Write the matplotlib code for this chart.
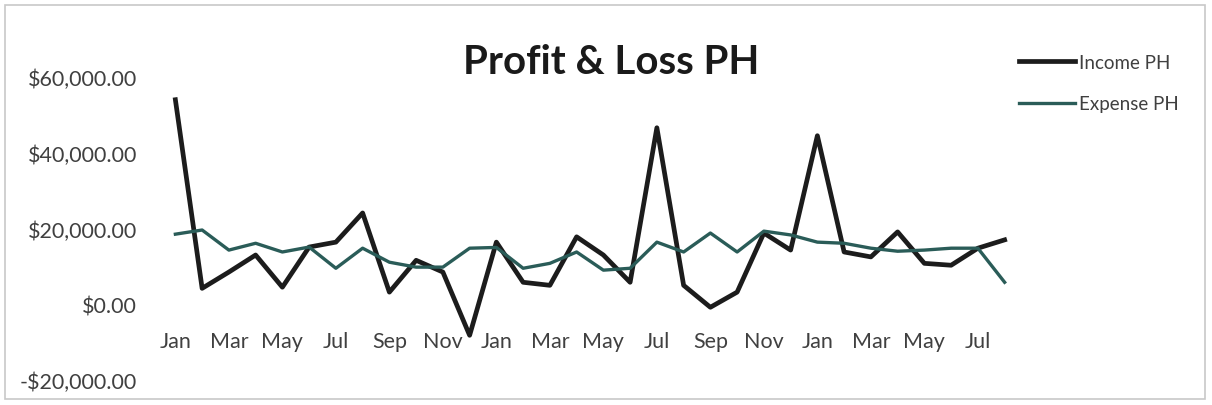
import matplotlib.pyplot as plt
from matplotlib.patches import Rectangle
from matplotlib.ticker import FuncFormatter

plt.rcParams['font.family'] = ['Lato', 'DejaVu Sans']

months = ["Jan", "Feb", "Mar", "Apr", "May", "Jun", "Jul", "Aug", "Sep", "Oct", "Nov", "Dec",
          "Jan", "Feb", "Mar", "Apr", "May", "Jun", "Jul", "Aug", "Sep", "Oct", "Nov", "Dec",
          "Jan", "Feb", "Mar", "Apr", "May", "Jun", "Jul", "Aug"]

income = [54000, 4200, 8500, 13000, 4500, 15100, 16400, 24100, 3200, 11600, 8500, -8200,
          16400, 5800, 5000, 17800, 13000, 5800, 46600, 5000, -800, 3200, 18800, 14300,
          44500, 13800, 12500, 19100, 10800, 10300, 14800, 17000]

expense = [18500, 19600, 14300, 16100, 13800, 15100, 9500, 14800, 11100, 9800, 9800, 14800,
           15000, 9500, 10800, 13800, 9000, 9500, 16400, 13800, 18800, 13800, 19300, 18300,
           16400, 16100, 14800, 14000, 14300, 14800, 14800, 5800]

fig = plt.figure(figsize=(12.12, 4.06), dpi=100)
ax = fig.add_axes([162 / 1212, 1 - 381 / 406, (1018 - 162) / 1212, (381 - 78) / 406])

x = list(range(len(months)))
ax.plot(x, income, color="#1c1c1c", linewidth=3.4, label="Income PH")
ax.plot(x, expense, color="#2a5c58", linewidth=2.4, label="Expense PH")

ax.set_xlim(-0.5, len(months) - 0.5)
ax.set_ylim(-20000, 60000)
ax.set_yticks([-20000, 0, 20000, 40000, 60000])
ax.yaxis.set_major_formatter(FuncFormatter(lambda v, p: ("-" if v < 0 else "") + f"${abs(v):,.2f}"))

ax.set_xticks(x[::2])
ax.set_xticklabels(months[::2])
ax.spines['bottom'].set_position(('data', 0))
for s in ax.spines.values():
    s.set_visible(False)
ax.tick_params(axis='x', length=0, pad=19, labelsize=15.5, labelcolor="#404040")
ax.tick_params(axis='y', length=0, pad=18, labelsize=15.5, labelcolor="#404040")

fig.text(611 / 1212, 1 - 62 / 406, "Profit & Loss PH", ha="center", va="center",
         fontsize=29, fontweight="bold", color="#1a1a1a")

fig.legend(loc="upper left", bbox_to_anchor=(1002 / 1212, 1 - 38 / 406), frameon=False,
           fontsize=13.5, labelcolor="#404040", handlelength=3.0, handletextpad=0.2,
           labelspacing=1.3)

fig.patches.append(Rectangle((5 / 1212, 6 / 406), 1200 / 1212, 394 / 406, transform=fig.transFigure,
                             fill=False, edgecolor="#c8c8c8", linewidth=1.2))

plt.savefig("out.png", dpi=100)
